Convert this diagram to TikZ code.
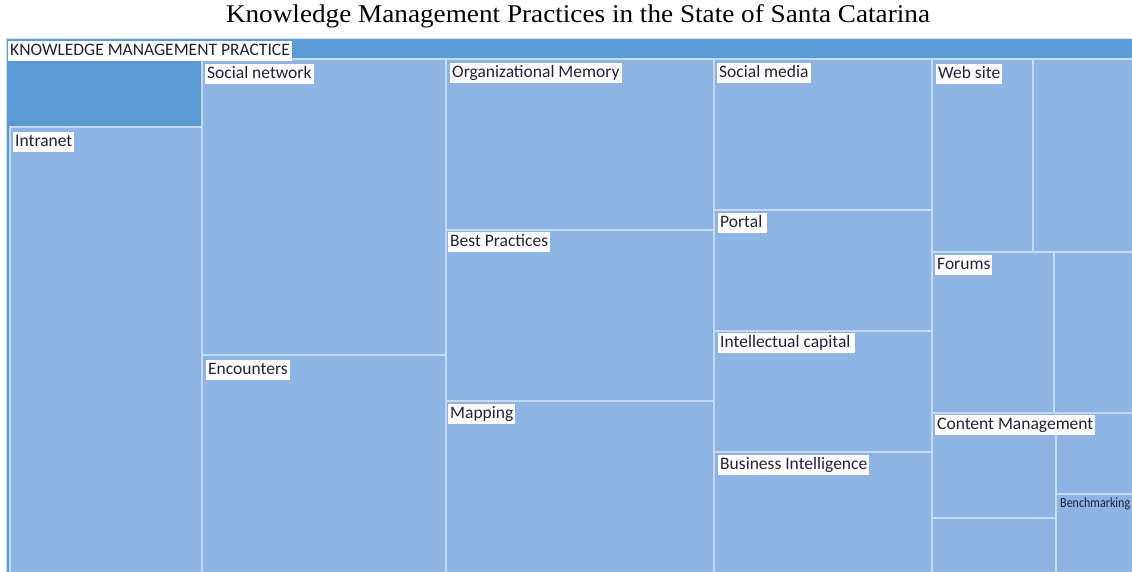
\documentclass[tikz,border=0pt]{standalone}
\usepackage{fontspec}
\setmainfont{Carlito}
\newfontfamily\titlefont{Liberation Serif}
\definecolor{parentblue}{HTML}{5B9BD5}
\definecolor{cellblue}{HTML}{8DB4E2}
\definecolor{celledge}{HTML}{C4DAF0}
\definecolor{framegray}{HTML}{D6E2EF}
\definecolor{labeltext}{HTML}{22223A}
\begin{document}
\begin{tikzpicture}[x=1pt,y=-1pt,
  cell/.style={fill=cellblue,draw=celledge,line width=1.8pt},
  lbl/.style={anchor=north west,fill=white,inner xsep=2pt,inner ysep=1.5pt,
    text height=12.5pt,text depth=4pt,text=labeltext,
    font=\fontsize{17.5}{20}\selectfont},
  smalllbl/.style={anchor=north west,inner sep=1pt,text=labeltext,
    font=\fontsize{14}{16}\selectfont}]
\useasboundingbox (0,0) rectangle (1132,571);
\fill[white] (0,0) rectangle (1132,571);
\begin{scope}
\clip (0,0) rectangle (1132,571);
% parent area
\draw[framegray,line width=1pt,fill=parentblue] (6,38) rectangle (1140,580);
% cells
\path[cell] (10,127) rectangle (202,575);
\path[cell] (202,59) rectangle (446,355);
\path[cell] (202,355) rectangle (446,575);
\path[cell] (446,59) rectangle (714,230);
\path[cell] (446,230) rectangle (714,401);
\path[cell] (446,401) rectangle (714,575);
\path[cell] (714,59) rectangle (932,210);
\path[cell] (714,210) rectangle (932,331);
\path[cell] (714,331) rectangle (932,452);
\path[cell] (714,452) rectangle (932,575);
\path[cell] (932,59) rectangle (1033,252);
\path[cell] (1033,59) rectangle (1140,252);
\path[cell] (932,252) rectangle (1054,413);
\path[cell] (1054,252) rectangle (1140,413);
\path[cell] (932,413) rectangle (1056,518);
\path[cell] (932,518) rectangle (1056,575);
\path[cell] (1056,413) rectangle (1140,494);
\path[cell] (1056,494) rectangle (1140,575);
\end{scope}
% title
\node[anchor=base] (title) at (578,22)
  {\resizebox{704pt}{\height}{\titlefont\fontsize{25.5}{30}\selectfont Knowledge Management Practices in the State of Santa Catarina}};
% labels
\node[lbl] (kmp) at (8,41) {KNOWLEDGE MANAGEMENT PRACTICE};
\node[lbl] (intranet) at (13,132) {Intranet};
\node[lbl] (social) at (205,64) {Social network};
\node[lbl] (encounters) at (206,360) {Encounters};
\node[lbl] (orgmem) at (450,63) {Organizational Memory};
\node[lbl] (best) at (448,232) {Best Practices};
\node[lbl] (mapping) at (448,404) {Mapping};
\node[lbl] (smedia) at (717,63) {Social media};
\node[lbl] (portal) at (718,213) {Portal\,};
\node[lbl] (intcap) at (718,333) {Intellectual capital\,};
\node[lbl] (bi) at (718,455) {Business Intelligence};
\node[lbl] (web) at (936,64) {Web site};
\node[lbl] (forums) at (935,255) {Forums};
\node[lbl] (content) at (935,415) {Content Management};
\node[smalllbl] (bench) at (1059,497) {\resizebox{70pt}{\height}{Benchmarking}};
\end{tikzpicture}
\end{document}
